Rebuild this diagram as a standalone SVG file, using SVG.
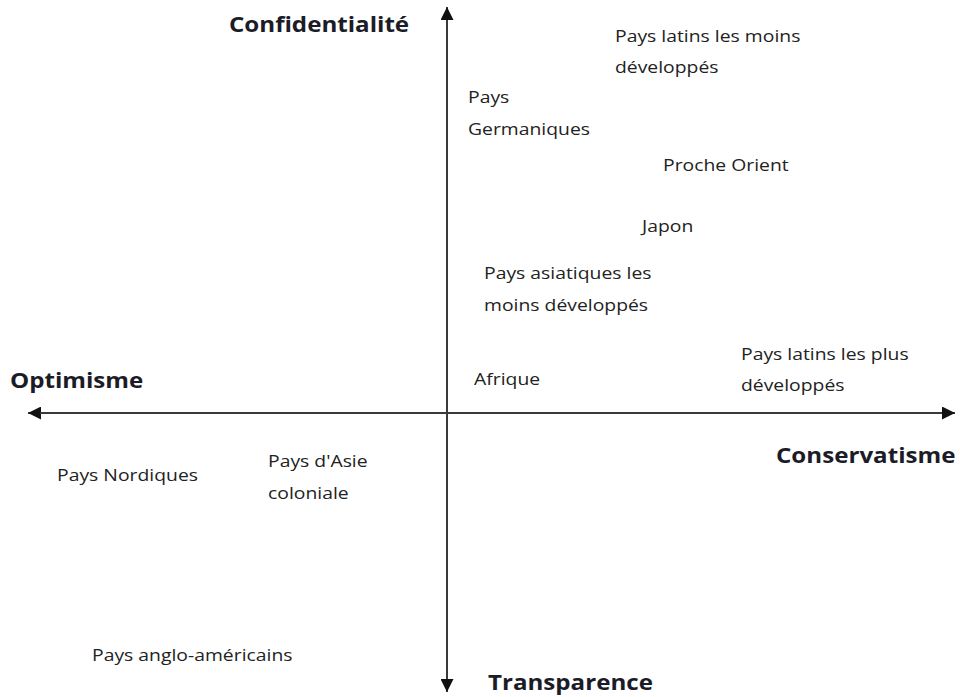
<svg xmlns="http://www.w3.org/2000/svg" width="960" height="697" viewBox="0 0 960 697">
<style>
.axis{stroke:#3a3a3a;stroke-width:2;fill:none}
.t{font-family:"Open Sans","Liberation Sans",sans-serif;font-size:16px;fill:#222}
.b{font-family:"Open Sans","Liberation Sans",sans-serif;font-size:21px;font-weight:bold;fill:#1c1c28}
</style>
<defs>
<marker id="ah2" viewBox="0 0 14 14" refX="14" refY="7" markerWidth="14" markerHeight="13" markerUnits="userSpaceOnUse" orient="auto">
<path d="M0,0 L14,7 L0,14 Z" fill="#111"/>
</marker>
</defs>
<rect width="960" height="697" fill="#fff"/>
<g id="connectors">
<line class="axis" x1="447" y1="680" x2="447" y2="7" marker-end="url(#ah2)"/>
<line class="axis" x1="447" y1="30" x2="447" y2="692" marker-end="url(#ah2)"/>
<line class="axis" x1="940" y1="413" x2="28" y2="413" marker-end="url(#ah2)"/>
<line class="axis" x1="40" y1="413" x2="955" y2="413" marker-end="url(#ah2)"/>
</g>
<g id="axis-labels">
<text class="b" transform="translate(229,32) scale(1.15,1)">Confidentialité</text>
<text class="b" transform="translate(10,388) scale(1.15,1)">Optimisme</text>
<text class="b" transform="translate(776,463) scale(1.15,1)">Conservatisme</text>
<text class="b" transform="translate(488,690) scale(1.15,1)">Transparence</text>
</g>
<g id="latins-moins"><text class="t" transform="translate(615,42) scale(1.21,1)">Pays latins les moins</text><text class="t" transform="translate(615,73) scale(1.21,1)">développés</text></g>
<g id="germaniques"><text class="t" transform="translate(468,103) scale(1.21,1)">Pays</text><text class="t" transform="translate(468,135) scale(1.21,1)">Germaniques</text></g>
<g id="proche-orient"><text class="t" transform="translate(663,171) scale(1.21,1)">Proche Orient</text></g>
<g id="japon"><text class="t" transform="translate(642,232) scale(1.21,1)">Japon</text></g>
<g id="asiatiques"><text class="t" transform="translate(484,279) scale(1.21,1)">Pays asiatiques les</text><text class="t" transform="translate(484,311) scale(1.21,1)">moins développés</text></g>
<g id="latins-plus"><text class="t" transform="translate(741,360) scale(1.21,1)">Pays latins les plus</text><text class="t" transform="translate(741,391) scale(1.21,1)">développés</text></g>
<g id="afrique"><text class="t" transform="translate(474,385) scale(1.21,1)">Afrique</text></g>
<g id="nordiques"><text class="t" transform="translate(57,481) scale(1.21,1)">Pays Nordiques</text></g>
<g id="asie-coloniale"><text class="t" transform="translate(268,467) scale(1.21,1)">Pays d'Asie</text><text class="t" transform="translate(268,499) scale(1.21,1)">coloniale</text></g>
<g id="anglo"><text class="t" transform="translate(92,661) scale(1.21,1)">Pays anglo-américains</text></g>
</svg>
